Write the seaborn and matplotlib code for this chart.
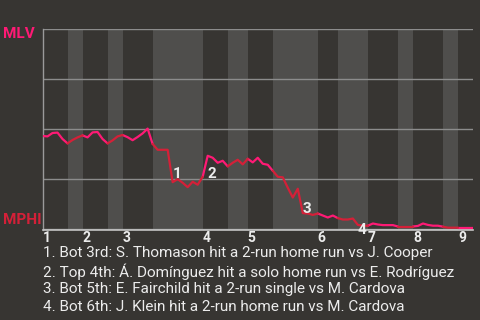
import numpy as np
import pandas as pd
import matplotlib
matplotlib.use("Agg")
import matplotlib.pyplot as plt
import seaborn as sns

# ---------------- data ----------------
half_inning_pa = [5, 3, 5, 3, 6, 10, 5, 4, 5, 9, 4, 6, 6, 3, 6, 3, 3]
win_prob_mlv = [
    46.5, 46.3, 48.0, 48.2, 45.0, 42.8, 44.5, 45.8, 46.8, 45.8,
    48.3, 48.5, 45.0, 42.8, 44.3, 46.3, 47.0, 45.9, 44.4, 46.0,
    47.8, 50.2, 42.5, 39.6, 39.6, 39.6, 23.4, 24.9, 23.1, 20.9,
    23.6, 22.1, 26.1, 36.6, 35.6, 33.1, 34.1, 31.3, 33.1, 34.6,
    32.3, 35.1, 33.3, 35.6, 32.6, 32.1, 29.1, 26.1, 25.8, 20.6,
    15.7, 20.1, 7.9, 7.7, 7.0, 7.7, 6.7, 5.7, 6.7, 5.4,
    4.7, 4.7, 5.2, 2.0, 1.6, 1.6, 2.7, 2.2, 1.9, 1.9,
    1.9, 1.2, 1.2, 1.2, 1.2, 1.5, 2.7, 2.0, 1.6, 1.6,
    1.1, 0.6, 0.6, 0.6, 0.6, 0.6, 0.6,
]
inning_labels = ["1", "2", "3", "4", "5", "6", "7", "8", "9"]
event_pa = [26, 33, 52, 63]
event_labels = ["1", "2", "3", "4"]
event_notes = [
    "1. Bot 3rd: S. Thomason hit a 2-run home run vs J. Cooper",
    "2. Top 4th: Á. Domínguez hit a solo home run vs E. Rodríguez",
    "3. Bot 5th: E. Fairchild hit a 2-run single vs M. Cardova",
    "4. Bot 6th: J. Klein hit a 2-run home run vs M. Cardova",
]
team_top = "MLV"
team_bottom = "MPHI"

# ---------------- style ----------------
BG = "#373532"
BAND = "#4f4e4c"
PINK = "#ff1a75"
RED = "#d42038"
GRID = "#8c8c8c"
TXT = "#ececec"

sns.set_style("dark")
plt.rcParams["font.family"] = ["Roboto", "DejaVu Sans"]

boundaries = np.concatenate([[0], np.cumsum(half_inning_pa)])
rows = []
for h in range(len(half_inning_pa)):
    for i in range(boundaries[h], boundaries[h + 1] + 1):
        rows.append(dict(pa=i, wp=win_prob_mlv[i], seg=h,
                         side="top" if h % 2 == 0 else "bot"))
df = pd.DataFrame(rows)

fig = plt.figure(figsize=(4.8, 3.2), dpi=100, facecolor=BG)
ax = fig.add_axes([42.5 / 480, 1 - 229.5 / 320, 430.5 / 480, 201 / 320])
ax.set_facecolor(BG)

for h in range(1, len(half_inning_pa), 2):
    ax.axvspan(boundaries[h], boundaries[h + 1], color=BAND, lw=0, zorder=0)

sns.lineplot(data=df, x="pa", y="wp", units="seg", estimator=None, hue="side",
             palette={"top": PINK, "bot": RED}, lw=1.6, legend=False, ax=ax,
             sort=False, zorder=3)

ax.set_xlim(0, boundaries[-1])
ax.set_ylim(-0.3, 100.3)
ax.set_yticks([0, 25, 50, 75, 100])
ax.set_xticks([])
ax.tick_params(left=False, bottom=False, labelleft=False, labelbottom=False)
ax.yaxis.grid(True, color=GRID, lw=1.0)
ax.xaxis.grid(False)
ax.set_xlabel("")
ax.set_ylabel("")
for s in ["top", "right"]:
    ax.spines[s].set_visible(False)
ax.spines["left"].set_color("#9a9a9a")
ax.spines["left"].set_linewidth(1.0)
ax.spines["bottom"].set_color("#c4c4c4")
ax.spines["bottom"].set_linewidth(1.2)

# inning numbers
for k, lab in enumerate(inning_labels):
    ax.annotate(lab, xy=(boundaries[2 * k], 0), xycoords=("data", "axes fraction"),
                xytext=(0, -8), textcoords="offset pixels", ha="left", va="center",
                color=TXT, fontsize=10, fontweight="bold")

# event markers
for idx, lab in zip(event_pa, event_labels):
    mx = (idx - 1 + idx) / 2
    my = (win_prob_mlv[idx - 1] + win_prob_mlv[idx]) / 2
    ax.annotate(lab, xy=(mx, my), xytext=(2.5, -1.0), textcoords="offset pixels",
                ha="left", va="top", color=TXT, fontsize=11, fontweight="bold",
                zorder=5)

fig.text(2.7 / 480, 1 - 33.5 / 320, team_top, ha="left", va="center",
         color=PINK, fontsize=11, fontweight="bold")
fig.text(2.7 / 480, 1 - 219.5 / 320, team_bottom, ha="left", va="center",
         color=RED, fontsize=11, fontweight="bold")

for j, note in enumerate(event_notes):
    fig.text(43 / 480, 1 - (253.3 + 18 * j) / 320, note, ha="left", va="center",
             color=TXT, fontsize=11)

fig.savefig("out.png", dpi=100, facecolor=BG)
